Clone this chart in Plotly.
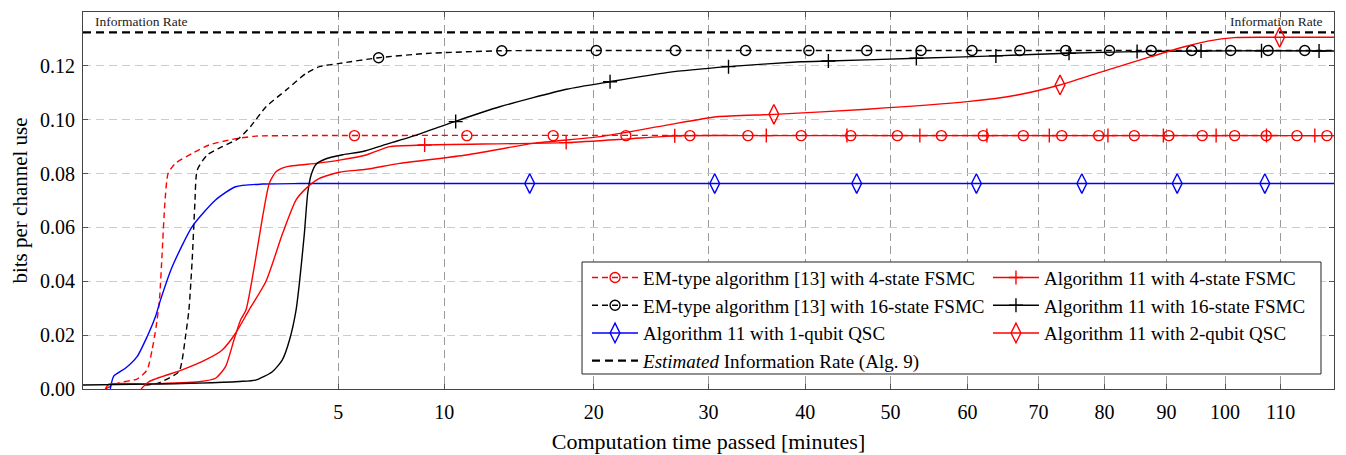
import numpy as np
import plotly.graph_objects as go

# time in minutes (drawn on a square-root axis), values in bits per channel use
em4_t = [0.038, 0.098, 0.224, 0.315, 0.366, 0.410, 0.448, 0.480, 0.514, 0.556, 0.656, 0.914, 1.216, 1.708, 2.284, 3.59, 120]
em4_y = [0.0, 0.0023, 0.0037, 0.0071, 0.0145, 0.0231, 0.033, 0.0504, 0.069, 0.0801, 0.0838, 0.0875, 0.0906, 0.0927, 0.0939, 0.0941, 0.0941]
em4_mt = [5.65, 11.3, 16.95, 22.6, 28.25, 33.9, 39.55, 45.2, 50.85, 56.5, 62.15, 67.8, 73.45, 79.1, 84.75, 90.4, 96.05, 101.7, 107.35, 113.0, 118.65]
em4_my = [0.0941] * 21

em16_t = [0.296, 0.441, 0.705, 0.754, 0.805, 0.860, 0.914, 0.960, 1.0, 1.183, 1.487, 1.865, 2.154, 2.568, 3.162, 3.816, 4.286, 5.043, 6.696, 9.037, 13.425, 20.17, 120]
em16_y = [0.0015, 0.0023, 0.0064, 0.0108, 0.0194, 0.0293, 0.0479, 0.069, 0.0813, 0.0869, 0.09, 0.0931, 0.0975, 0.1048, 0.111, 0.1172, 0.1197, 0.1209, 0.123, 0.1246, 0.1256, 0.1257, 0.1257]
em16_mt = [6.7, 13.45, 20.2, 26.9, 33.65, 40.4, 47.1, 53.85, 60.6, 67.3, 74.05, 80.8, 87.5, 94.25, 101.0, 107.7, 114.45]
em16_my = [0.123, 0.1256] + [0.1257] * 15

q1_t = [0.057, 0.0725, 0.138, 0.224, 0.315, 0.402, 0.46, 0.61, 0.914, 1.347, 1.785, 2.466, 3.59, 120]
q1_y = [0.0, 0.0048, 0.0077, 0.012, 0.0194, 0.0268, 0.033, 0.0454, 0.0603, 0.0702, 0.0751, 0.0761, 0.0763, 0.0763]
q1_mt = [15.3, 30.6, 45.9, 61.2, 76.5, 91.8, 107.1]
q1_my = [0.0763] * 7

a4_t = [0.038, 0.052, 0.335, 1.03, 1.347, 1.558, 1.747, 1.904, 2.037, 2.25, 2.474, 2.662, 2.857, 3.162, 4.167, 5.043, 6.149, 7.205, 8.947, 17.877, 22.604, 26.876, 35.8, 120]
a4_y = [0.0, 0.0018, 0.0019, 0.0027, 0.004, 0.0083, 0.0182, 0.0256, 0.0293, 0.0454, 0.064, 0.0764, 0.0807, 0.0825, 0.0838, 0.085, 0.0869, 0.09, 0.0906, 0.0915, 0.0928, 0.094, 0.0941, 0.0941]
a4_mt = [8.95, 17.9, 26.85, 35.8, 44.75, 53.7, 62.65, 71.6, 80.55, 89.5, 98.45, 107.4, 116.35]
a4_my = [0.0906, 0.0915, 0.094] + [0.0941] * 10

a16_t = [0.0, 0.335, 1.035, 1.873, 2.284, 2.749, 3.047, 3.265, 3.481, 3.59, 3.758, 3.871, 3.99, 4.167, 4.532, 5.174, 6.003, 6.893, 8.517, 10.591, 13.316, 17.928, 21.289, 26.126, 31.883, 39.447, 42.627, 53.354, 63.859, 74.307, 84.996, 95.834, 106.597, 120]
a16_y = [0.0015, 0.0018, 0.0022, 0.0028, 0.0033, 0.0064, 0.0108, 0.018, 0.0293, 0.0392, 0.0578, 0.0727, 0.0795, 0.0835, 0.0855, 0.087, 0.0882, 0.0905, 0.0943, 0.0993, 0.1048, 0.1113, 0.1141, 0.1175, 0.1197, 0.1215, 0.1218, 0.1228, 0.1237, 0.1247, 0.1253, 0.1255, 0.1256, 0.1255]
a16_mt = [10.65, 21.3, 31.95, 42.6, 53.25, 63.9, 74.55, 85.2, 95.85, 106.5, 117.15]
a16_my = [0.0993, 0.1141, 0.1197, 0.1218, 0.1228, 0.1237, 0.1247, 0.1253, 0.1255, 0.1256, 0.1255]

q2_t = [0.259, 0.332, 0.754, 1.151, 1.487, 1.785, 2.113, 2.568, 3.056, 3.481, 3.816, 4.286, 5.043, 6.149, 7.684, 11.27, 15.533, 20.488, 26.126, 30.802, 36.666, 47.139, 59.954, 66.938, 73.147, 79.43, 87.44, 92.987, 96.983, 101.64, 109.75, 120]
q2_y = [0.0, 0.0027, 0.0071, 0.0108, 0.0145, 0.0207, 0.0293, 0.04, 0.0578, 0.0702, 0.0745, 0.0782, 0.0805, 0.0816, 0.0838, 0.0869, 0.0912, 0.0937, 0.098, 0.1011, 0.102, 0.1039, 0.1067, 0.1092, 0.1129, 0.1177, 0.1234, 0.1271, 0.1292, 0.1305, 0.1306, 0.1306]
q2_mt = [36.6, 73.2, 109.8]
q2_my = [0.102, 0.1129, 0.1306]

info_rate = 0.1324
t_max = 120
xticks = [5, 10, 20, 30, 40, 50, 60, 70, 80, 90, 100, 110]
yticks = [0.0, 0.02, 0.04, 0.06, 0.08, 0.10, 0.12, 0.14]

FONT = "Liberation Serif"
RED, BLUE, BLACK = "#ff0000", "#0000ff", "#000000"


def sq(v):
    return np.sqrt(np.asarray(v, dtype=float))


series = [
    # name, t, y, mt, my, color, dash, symbol, msize, legend
    ("EM-type algorithm [13] with 4-state FSMC", em4_t, em4_y, em4_mt, em4_my, RED, "6px,4px", "circle-open", 10, "legend"),
    ("EM-type algorithm [13] with 16-state FSMC", em16_t, em16_y, em16_mt, em16_my, BLACK, "6px,4px", "circle-open", 10, "legend"),
    ("Algorithm 11 with 1-qubit QSC", q1_t, q1_y, q1_mt, q1_my, BLUE, "solid", "diamond-tall-open", 14, "legend"),
    ("Algorithm 11 with 4-state FSMC", a4_t, a4_y, a4_mt, a4_my, RED, "solid", "cross-thin-open", 10, "legend2"),
    ("Algorithm 11 with 16-state FSMC", a16_t, a16_y, a16_mt, a16_my, BLACK, "solid", "cross-thin-open", 10, "legend2"),
    ("Algorithm 11 with 2-qubit QSC", q2_t, q2_y, q2_mt, q2_my, RED, "solid", "diamond-tall-open", 14, "legend2"),
]

fig = go.Figure()

fig.add_trace(go.Scatter(x=sq([0, t_max]), y=[info_rate, info_rate], mode="lines",
                         line=dict(color=BLACK, width=2.2, dash="8px,5px"), showlegend=False))

for i, (name, t, y, mt, my, col, dash, sym, ms, leg) in enumerate(series):
    fig.add_trace(go.Scatter(x=sq(t), y=y, mode="lines", line=dict(color=col, width=1.4, dash=dash, shape="spline", smoothing=0.6),
                             showlegend=False))
    fig.add_trace(go.Scatter(x=sq(mt), y=my, mode="markers",
                             marker=dict(symbol=sym, size=ms, color=col, line=dict(color=col, width=1.4)),
                             showlegend=False))
    # legend entry (line with marker)
    fig.add_trace(go.Scatter(x=[None], y=[None], mode="lines+markers", name=name, legend=leg, legendgroup=f"g{i}",
                             line=dict(color=col, width=1.4, dash=dash),
                             marker=dict(symbol=sym, size=ms, color=col, line=dict(color=col, width=1.4))))

fig.add_trace(go.Scatter(x=[None], y=[None], mode="lines", name="<i>Estimated</i> Information Rate (Alg. 9)",
                         legend="legend", legendgroup="g9",
                         line=dict(color=BLACK, width=2.2, dash="8px,5px")))

fig.add_annotation(x=0.008, xref="paper", y=info_rate, yref="y", text="Information Rate", showarrow=False,
                   xanchor="left", yanchor="bottom", yshift=1, font=dict(family=FONT, size=13.5, color="#222"))
fig.add_annotation(x=0.993, xref="paper", y=info_rate, yref="y", text="Information Rate", showarrow=False,
                   xanchor="right", yanchor="bottom", yshift=1, font=dict(family=FONT, size=13.5, color="#222"))

# legend frame around both legend columns
fig.add_shape(type="rect", xref="paper", yref="paper", x0=0.3989, x1=0.9896, y0=0.0398, y1=0.3369,
              line=dict(color="#222", width=1), fillcolor="white", layer="above")

leg_common = dict(font=dict(family=FONT, size=19, color="black"), bgcolor="rgba(0,0,0,0)", borderwidth=0,
                  itemwidth=46, tracegroupgap=0, yanchor="top", xanchor="left", orientation="v")

# the page body adds an 8px offset, so the figure is 8px smaller than the window
fig.update_layout(
    width=1338, height=447,
    margin=dict(l=75, r=12, t=4, b=66, autoexpand=False),
    plot_bgcolor="white", paper_bgcolor="white",
    font=dict(family=FONT, size=20, color="black"),
    legend=dict(x=0.4029, y=0.3456, **leg_common),
    legend2=dict(x=0.7234, y=0.3456, **leg_common),
)

fig.update_xaxes(range=[0, float(np.sqrt(t_max))], tickvals=sq(xticks), ticktext=[str(v) for v in xticks],
                 showgrid=True, gridcolor="#9a9a9a", griddash="8px,5px", gridwidth=1,
                 showline=True, linecolor="#444", linewidth=1, mirror="ticks",
                 ticks="inside", ticklen=5, tickcolor="#555", zeroline=False, automargin=False, ticklabelstandoff=5,
                 title=dict(text="Computation time passed [minutes]", standoff=11, font=dict(family=FONT, size=22)))
fig.update_yaxes(range=[0, 0.14], tickvals=yticks, tickformat=".2f",
                 showgrid=True, gridcolor="#cccccc", griddash="8px,5px", gridwidth=1,
                 showline=True, linecolor="#444", linewidth=1, mirror="ticks",
                 ticks="inside", ticklen=5, tickcolor="#555", zeroline=False, ticklabelstandoff=3, automargin=False,
                 title=dict(text="bits per channel use", standoff=7, font=dict(family=FONT, size=21)))

fig.write_html("out.html")
